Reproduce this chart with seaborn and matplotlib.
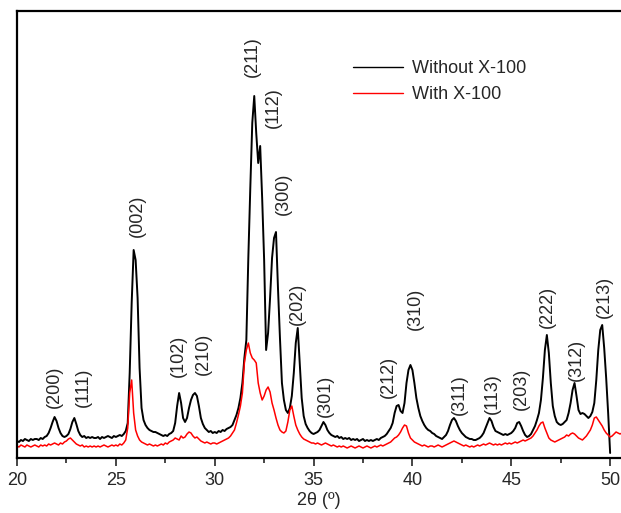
import numpy as np
import pandas as pd
import matplotlib
matplotlib.use('Agg')
import matplotlib.pyplot as plt
from matplotlib.ticker import MultipleLocator
import seaborn as sns

# XRD intensities (a.u.), 2theta from 20.0 in 0.1 deg steps
without_x100 = [
    17, 16, 18, 17, 19, 18, 17, 19, 18, 19,   # 20
    19, 18, 20, 19, 21, 22, 25, 30, 36, 41,   # 21
    37, 30, 25, 22, 21, 22, 24, 29, 36, 40,   # 22
    34, 27, 23, 21, 22, 20, 21, 20, 21, 20,   # 23
    20, 21, 19, 21, 20, 21, 22, 21, 20, 22,   # 24
    21, 22, 23, 22, 24, 27, 35, 85, 155, 208,  # 25
    198, 160, 90, 50, 38, 33, 30, 28, 27, 26,  # 26
    26, 25, 24, 23, 22, 23, 22, 24, 25, 27,   # 27
    35, 52, 65, 55, 40, 36, 40, 50, 58, 63,   # 28
    65, 62, 52, 40, 34, 30, 28, 26, 27, 25,   # 29
    26, 25, 27, 26, 28, 27, 29, 30, 31, 33,   # 30
    38, 43, 50, 60, 75, 100, 118, 200, 270, 335,  # 31
    362, 325, 295, 312, 260, 198, 108, 125, 160, 200,  # 32
    220, 226, 170, 120, 75, 58, 48, 45, 50, 62,  # 33
    85, 115, 130, 95, 60, 42, 34, 30, 27, 25,  # 34
    24, 25, 26, 28, 32, 36, 33, 28, 25, 23,   # 35
    22, 21, 22, 20, 21, 19, 20, 19, 20, 18,   # 36
    19, 18, 19, 17, 18, 19, 17, 18, 17, 18,   # 37
    17, 18, 19, 18, 20, 21, 22, 24, 27, 30,   # 38
    35, 45, 52, 53, 47, 45, 55, 75, 88, 93,   # 39
    88, 75, 60, 50, 42, 37, 33, 30, 28, 27,   # 40
    25, 24, 22, 21, 20, 19, 21, 23, 27, 33,   # 41
    38, 40, 37, 32, 28, 25, 23, 21, 20, 19,   # 42
    19, 18, 18, 19, 20, 22, 25, 30, 35, 40,   # 43
    37, 31, 27, 26, 25, 24, 23, 24, 23, 24,   # 44
    25, 27, 30, 35, 36, 32, 27, 23, 21, 22,   # 45
    24, 28, 32, 38, 45, 58, 80, 108, 123, 105,  # 46
    75, 52, 42, 36, 34, 33, 34, 36, 38, 45,   # 47
    55, 68, 75, 62, 48, 44, 45, 44, 42, 40,   # 48
    42, 46, 55, 78, 108, 128, 133, 110, 80, 45,  # 49
    5,                                        # 50
]

with_x100 = [
    12, 11, 13, 12, 11, 13, 12, 11, 12, 13,   # 20
    12, 11, 13, 12, 13, 12, 14, 13, 14, 15,   # 21
    14, 13, 15, 14, 16, 17, 19, 20, 18, 16,   # 22
    14, 13, 12, 13, 11, 12, 11, 12, 11, 12,   # 23
    11, 12, 11, 12, 13, 12, 11, 12, 13, 12,   # 24
    13, 12, 14, 13, 15, 18, 30, 65, 78, 45,   # 25
    28, 22, 18, 16, 15, 14, 13, 14, 13, 12,   # 26
    13, 12, 13, 14, 13, 15, 14, 16, 17, 18,   # 27
    20, 19, 18, 22, 20, 21, 24, 26, 25, 22,   # 28
    20, 21, 19, 17, 16, 15, 16, 15, 14, 15,   # 29
    15, 14, 15, 16, 17, 18, 19, 20, 22, 25,   # 30
    28, 35, 43, 52, 65, 95, 108, 115, 105, 100,  # 31
    98, 95, 75, 65, 58, 62, 68, 71, 66, 55,   # 32
    48, 40, 33, 28, 26, 25, 27, 36, 48, 52,   # 33
    42, 33, 28, 24, 21, 19, 18, 17, 16, 15,   # 34
    15, 14, 15, 14, 13, 14, 15, 14, 13, 12,   # 35
    13, 12, 11, 12, 11, 12, 11, 10, 11, 12,   # 36
    11, 10, 11, 12, 11, 10, 11, 12, 11, 10,   # 37
    11, 12, 11, 12, 13, 12, 13, 14, 15, 16,   # 38
    18, 20, 21, 23, 26, 30, 33, 32, 25, 20,   # 39
    18, 16, 15, 14, 13, 12, 13, 12, 11, 12,   # 40
    12, 11, 12, 13, 12, 11, 12, 13, 14, 15,   # 41
    16, 17, 16, 15, 14, 13, 12, 13, 12, 11,   # 42
    12, 11, 12, 13, 12, 13, 14, 13, 14, 15,   # 43
    14, 13, 14, 13, 14, 13, 14, 15, 14, 15,   # 44
    14, 15, 16, 15, 16, 17, 18, 17, 18, 19,   # 45
    20, 22, 25, 28, 32, 35, 36, 30, 25, 20,   # 46
    18, 17, 16, 17, 18, 19, 20, 21, 23, 22,   # 47
    24, 25, 24, 22, 20, 19, 18, 20, 22, 25,   # 48
    28, 33, 40, 41, 38, 35, 32, 28, 25, 23,   # 49
    21, 22, 24, 26, 25, 24, 25,               # 50
]

# Miller indices and where their labels sit (2theta, intensity at label start)
hkl_labels = ['(200)', '(111)', '(002)', '(102)', '(210)', '(211)', '(112)', '(300)', '(202)',
              '(301)', '(212)', '(310)', '(311)', '(113)', '(203)', '(222)', '(312)', '(213)']
hkl_2theta = [21.87, 23.34, 26.07, 28.14, 29.41, 31.89, 32.95, 33.45, 34.16,
              35.58, 38.77, 40.13, 42.36, 44.03, 45.49, 46.81, 48.28, 49.69]
hkl_height = [50, 51, 221, 81, 83, 381, 330, 243, 133,
              41, 60, 128, 43, 44, 48, 130, 77, 140]

df_without = pd.DataFrame({'two_theta': np.round(20.0 + 0.1 * np.arange(len(without_x100)), 1),
                           'intensity': without_x100})
df_with = pd.DataFrame({'two_theta': np.round(20.0 + 0.1 * np.arange(len(with_x100)), 1),
                        'intensity': with_x100})

sns.set_style('ticks')
plt.rcParams['font.family'] = ['Liberation Sans', 'DejaVu Sans']

fig = plt.figure(figsize=(6.21, 5.13), dpi=100)
ax = fig.add_axes([17 / 621, 55 / 513, 604 / 621, 447 / 513])

sns.lineplot(data=df_without, x='two_theta', y='intensity', color='black', lw=1.4,
             label='Without X-100', ax=ax, estimator=None, sort=False)
sns.lineplot(data=df_with, x='two_theta', y='intensity', color='red', lw=1.1,
             label='With X-100', ax=ax, estimator=None, sort=False)

for lab, tx, ty in zip(hkl_labels, hkl_2theta, hkl_height):
    ax.text(tx, ty, lab, rotation=90, ha='center', va='bottom', fontsize=13)

ax.set_xlim(20, 50.55)
ax.set_ylim(0, 447)
ax.set_yticks([])
ax.set_ylabel('')
ax.xaxis.set_major_locator(MultipleLocator(5))
ax.xaxis.set_minor_locator(MultipleLocator(2.5))
ax.tick_params(axis='x', which='major', direction='out', length=6, width=1.2, labelsize=13, pad=4)
ax.tick_params(axis='x', which='minor', direction='out', length=3.5, width=1.2)
ax.set_xlabel('2θ (º)', fontsize=13, labelpad=2)

for side in ['left', 'top', 'bottom']:
    ax.spines[side].set_visible(True)
    ax.spines[side].set_linewidth(1.6)
    ax.spines[side].set_color('black')
ax.spines['right'].set_visible(False)

leg = ax.legend(loc='center left', bbox_to_anchor=(0.556, 0.842), frameon=False, fontsize=13,
                handlelength=2.8, handletextpad=0.5, labelspacing=0.5, borderpad=0,
                borderaxespad=0)
for line in leg.get_lines():
    line.set_linewidth(1.0)

fig.savefig('out.png', dpi=100)
